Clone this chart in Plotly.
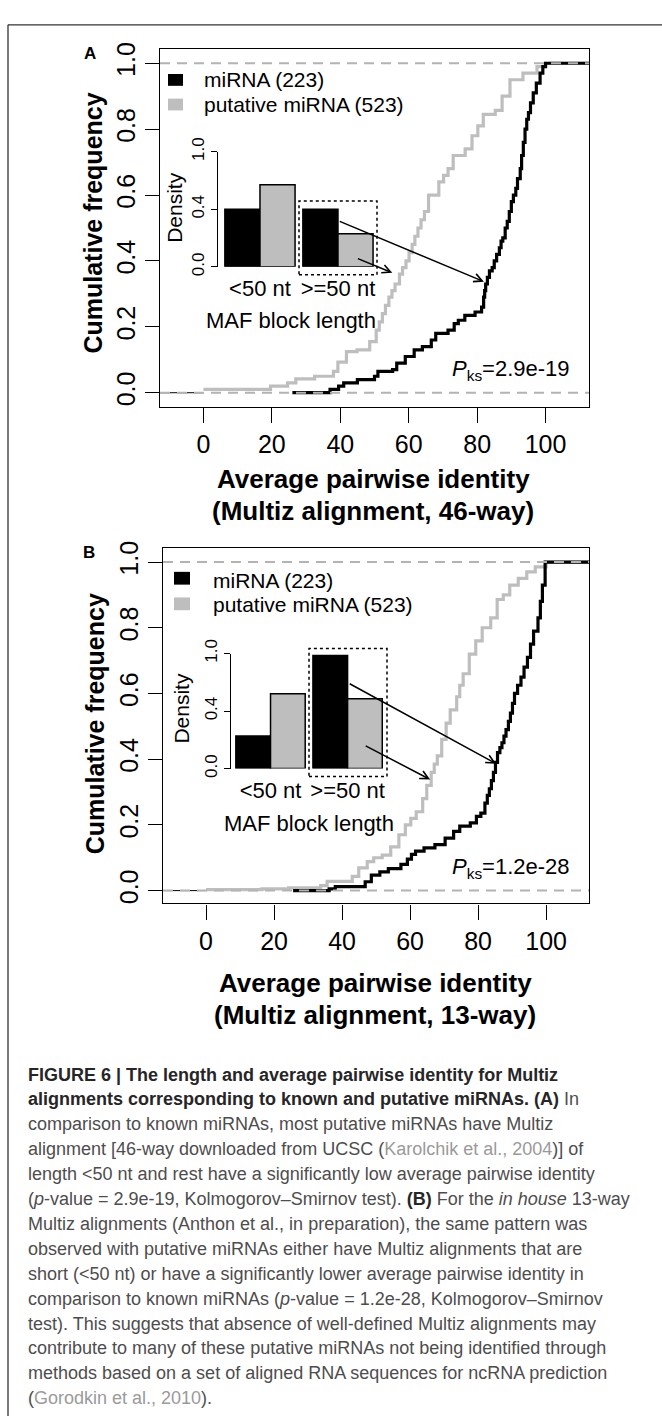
import plotly.graph_objects as go

W, H = 662, 1425

# ---------------- data ----------------
# Panel A: ECDF of average pairwise identity (Multiz 46-way)
a_mirna_x = [26, 37, 39.5, 41, 45, 50, 51, 55.3, 56.5, 59, 61.6, 64, 66.6, 67.9, 71.5, 73.3,
             74.5, 76.4, 79.4, 81.3, 81.9, 82.2, 82.5, 83, 83.6, 84.4, 85, 85.7, 86.5, 87,
             87.5, 88.2, 88.8, 89.4, 90, 90.6, 91.3, 91.8, 92.6, 93, 93.5, 94, 94.5, 95,
             95.6, 96.4, 97.3, 98.4, 99.2, 100]
a_mirna_y = [0, 0.01, 0.02, 0.03, 0.04, 0.05, 0.065, 0.07, 0.09, 0.11, 0.13, 0.14, 0.16, 0.18,
             0.19, 0.21, 0.22, 0.235, 0.245, 0.26, 0.29, 0.31, 0.33, 0.35, 0.37, 0.38, 0.40,
             0.42, 0.44, 0.46, 0.47, 0.50, 0.52, 0.55, 0.58, 0.60, 0.62, 0.65, 0.68, 0.72,
             0.76, 0.80, 0.83, 0.85, 0.88, 0.91, 0.94, 0.97, 0.99, 1.0]
a_put_x = [0, 19.6, 24.6, 27, 32.5, 38, 39.3, 41.8, 44.9, 48.6, 50.5, 51.4, 52.3, 53.2, 54.2,
           55.1, 56, 57.3, 58.2, 59.2, 60.1, 61, 61.8, 62.7, 63.6, 64.6, 65.8, 68.8, 70.2,
           71.5, 73, 76.5, 78.5, 80.2, 81.8, 85.3, 87.3, 89.6, 93.4, 97.5, 99.9]
a_put_y = [0.01, 0.02, 0.03, 0.042, 0.05, 0.065, 0.093, 0.125, 0.13, 0.155, 0.19, 0.215, 0.24,
           0.265, 0.29, 0.31, 0.33, 0.36, 0.38, 0.40, 0.425, 0.45, 0.475, 0.50, 0.525, 0.55,
           0.60, 0.64, 0.66, 0.68, 0.72, 0.74, 0.78, 0.81, 0.845, 0.857, 0.90, 0.95, 0.97,
           0.99, 1.0]

# Panel B: ECDF of average pairwise identity (Multiz 13-way)
b_mirna_x = [25.6, 36.2, 38, 46.8, 48.6, 51.1, 53.6, 57.3, 59.2, 60.4, 61.6, 64.1, 67.3, 70.3,
             72.8, 74.6, 77.7, 79.5, 80.8, 82, 82.7, 83.3, 83.9, 84.5, 85.1, 85.7, 86.4, 87,
             87.6, 88.2, 88.9, 89.5, 90.1, 90.7, 91.6, 92.6, 93.5, 94.5, 95.4, 96.3, 97.6,
             98.3, 98.9, 99.7]
b_mirna_y = [0, 0.005, 0.012, 0.027, 0.047, 0.057, 0.067, 0.08, 0.096, 0.11, 0.12, 0.13, 0.14,
             0.16, 0.18, 0.196, 0.206, 0.226, 0.236, 0.266, 0.29, 0.31, 0.335, 0.36, 0.39,
             0.42, 0.435, 0.45, 0.47, 0.49, 0.515, 0.54, 0.57, 0.60, 0.625, 0.65, 0.68, 0.71,
             0.75, 0.79, 0.83, 0.88, 0.93, 1.0]
b_put_x = [0, 16.4, 24.3, 33.7, 35.6, 43, 44.9, 47.4, 49.3, 51.8, 54.3, 56.7, 58.6, 60.2,
           61.8, 63.7, 64.9, 66.2, 67.1, 68, 69.3, 70.6, 71.8, 73.7, 74.6, 75.6, 77.4, 79.3,
           81.2, 83.7, 85.6, 87.4, 89.3, 91.8, 94.3, 96.8, 100]
b_put_y = [0.003, 0.005, 0.008, 0.015, 0.028, 0.043, 0.069, 0.088, 0.10, 0.108, 0.133, 0.17,
           0.20, 0.22, 0.24, 0.28, 0.32, 0.36, 0.385, 0.41, 0.46, 0.51, 0.55, 0.59, 0.625,
           0.66, 0.72, 0.76, 0.80, 0.83, 0.886, 0.90, 0.93, 0.95, 0.97, 0.985, 1.0]

# Insets: density by MAF block length
inset_cats = ["<50 nt", ">=50 nt"]
a_inset_mirna = [0.40, 0.40]
a_inset_put = [0.57, 0.23]
b_inset_mirna = [0.226, 0.786]
b_inset_put = [0.52, 0.485]

series_names = ["miRNA (223)", "putative miRNA (523)"]
main_ticks = [0, 20, 40, 60, 80, 100]
main_yticks = [0.0, 0.2, 0.4, 0.6, 0.8, 1.0]
inset_ytickvals = [0.0, 0.4, 0.8]
inset_yticktext = ["0.0", "0.4", "1.0"]
pks_text = ["2.9e-19", "1.2e-28"]
xtitle_ways = ["46-way", "13-way"]

# ---------------- styling ----------------
FONT = "Liberation Sans, Arial, Helvetica, sans-serif"
BLACK = "#000000"
GRAY = "#BEBEBE"
DASH = "#B3B3B3"


def fx(p):
    return p / W


def fy(p):
    return 1 - p / H


fig = go.Figure()

panels = [
    dict(x="x", y="y", xi="x3", yi="y3",
         mx=a_mirna_x, my=a_mirna_y, gx=a_put_x, gy=a_put_y,
         xr=[-12.7, 112.7], yr=[-0.042, 1.042],
         xdom=[160, 589], ydom=[36, 399],
         ixdom=[218, 390], iydom=[140, 257], ixr=[-0.538, 1.667],
         im=a_inset_mirna, ip=a_inset_put),
    dict(x="x2", y="y2", xi="x4", yi="y4",
         mx=b_mirna_x, my=b_mirna_y, gx=b_put_x, gy=b_put_y,
         xr=[-12.65, 112.6], yr=[-0.039, 1.042],
         xdom=[163, 589], ydom=[543, 904],
         ixdom=[231, 400], iydom=[650, 767], ixr=[-0.513, 1.68],
         im=b_inset_mirna, ip=b_inset_put),
]

for p in panels:
    xmax = p["xr"][1]
    fig.add_trace(go.Scatter(x=[p["xr"][0], p["gx"][0]], y=[0, 0], mode="lines",
                             line=dict(color=BLACK, width=1), xaxis=p["x"], yaxis=p["y"],
                             showlegend=False, hoverinfo="skip"))
    fig.add_trace(go.Scatter(x=p["gx"] + [xmax], y=p["gy"] + [p["gy"][-1]], mode="lines",
                             line=dict(color=GRAY, width=3.2, shape="hv"),
                             xaxis=p["x"], yaxis=p["y"], showlegend=False,
                             name=series_names[1]))
    fig.add_trace(go.Scatter(x=p["mx"] + [xmax], y=p["my"] + [p["my"][-1]], mode="lines",
                             line=dict(color=BLACK, width=3.2, shape="hv"),
                             xaxis=p["x"], yaxis=p["y"], showlegend=False,
                             name=series_names[0]))
    fig.add_trace(go.Bar(x=inset_cats, y=p["im"],
                         marker=dict(color=BLACK, line=dict(color=BLACK, width=1.5)),
                         xaxis=p["xi"], yaxis=p["yi"], showlegend=False, name=series_names[0]))
    fig.add_trace(go.Bar(x=inset_cats, y=p["ip"],
                         marker=dict(color=GRAY, line=dict(color=BLACK, width=1.5)),
                         xaxis=p["xi"], yaxis=p["yi"], showlegend=False, name=series_names[1]))

layout = dict(
    width=W, height=H, autosize=False,
    margin=dict(l=0, r=0, t=0, b=0, pad=0),
    paper_bgcolor="white", plot_bgcolor="rgba(0,0,0,0)",
    barmode="group", bargap=0.1, bargroupgap=0,
    showlegend=False,
)

ax_names = [("xaxis", "yaxis", "xaxis3", "yaxis3"), ("xaxis2", "yaxis2", "xaxis4", "yaxis4")]
for p, (xa, ya, xia, yia) in zip(panels, ax_names):
    layout[xa] = dict(domain=[fx(p["xdom"][0]), fx(p["xdom"][1])], range=p["xr"],
                      anchor=p["y"], showgrid=False, zeroline=False,
                      showline=True, mirror=True, linecolor=BLACK, linewidth=1.3,
                      ticks="outside", ticklen=15, tickwidth=1.3, tickcolor=BLACK,
                      tickvals=main_ticks, tickangle=0,
                      tickfont=dict(family=FONT, size=25, color=BLACK))
    layout[ya] = dict(domain=[fy(p["ydom"][1]), fy(p["ydom"][0])], range=p["yr"],
                      anchor=p["x"], showgrid=False, zeroline=False,
                      showline=True, mirror=True, linecolor=BLACK, linewidth=1.3,
                      ticks="outside", ticklen=14, tickwidth=1.3, tickcolor=BLACK,
                      tickvals=main_yticks, tickformat=".1f", tickangle=-90,
                      tickfont=dict(family=FONT, size=25, color=BLACK))
    layout[xia] = dict(domain=[fx(p["ixdom"][0]), fx(p["ixdom"][1])], range=p["ixr"],
                       anchor=p["yi"], showgrid=False, zeroline=False, showline=False,
                       ticks="", type="category", tickangle=0,
                       tickfont=dict(family=FONT, size=22, color=BLACK),
                       ticklabelstandoff=6)
    layout[yia] = dict(domain=[fy(p["iydom"][1]), fy(p["iydom"][0])], range=[0, 0.8],
                       anchor=p["xi"], showgrid=False, zeroline=False,
                       showline=True, linecolor=BLACK, linewidth=1.3,
                       ticks="outside", ticklen=6, tickwidth=1.3, tickcolor=BLACK,
                       tickvals=inset_ytickvals, ticktext=inset_yticktext, tickangle=-90,
                       tickfont=dict(family=FONT, size=17, color=BLACK))

fig.update_layout(**layout)

shapes = []
annotations = []

# outer frame (top and left)
shapes.append(dict(type="line", xref="paper", yref="paper", x0=fx(8), x1=1.0, y0=fy(11), y1=fy(11),
                   line=dict(color="#333333", width=1.3)))
shapes.append(dict(type="line", xref="paper", yref="paper", x0=fx(8), x1=fx(8), y0=fy(11), y1=0,
                   line=dict(color="#333333", width=1.3)))

panel_text = [
    dict(letter="A", lpos=(90, 40), leg_sq=(168, 183, [61, 86], 12), leg_tx=(202, [67, 92]),
         ytitle=(93, 213), xtitle=(373, [473, 505]), pks=(572, 362),
         maf=(290.5, 312), dens=(175, 197),
         box=(299, 377, 190, 265),
         arrows=[((39.4, 0.522), (82.0, 0.337)), ((44.7, 0.409), (55.2, 0.364))]),
    dict(letter="B", lpos=(89, 547), leg_sq=(174, 190, [567, 593], 13), leg_tx=(211, [576, 600]),
         ytitle=(95, 722), xtitle=(375, [985, 1017]), pks=(572, 868),
         maf=(309, 823), dens=(182, 706),
         box=(309, 387, 645, 775),
         arrows=[((41.8, 0.632), (85.3, 0.386)), ((46.5, 0.443), (65.9, 0.338))]),
]

for i, (p, t) in enumerate(zip(panels, panel_text)):
    # dashed reference lines at 0 and 1
    for yv in (0, 1):
        shapes.append(dict(type="line", xref=f"{p['x']} domain", yref=p["y"], x0=0, x1=1,
                           y0=yv, y1=yv, line=dict(color=DASH, width=2, dash="10px,7px"),
                           layer="above"))
    # dotted box around >=50 nt bars
    bx0, bx1, by0, by1 = t["box"]
    shapes.append(dict(type="rect", xref="paper", yref="paper", x0=fx(bx0), x1=fx(bx1),
                       y0=fy(by1), y1=fy(by0), line=dict(color=BLACK, width=1.5, dash="dot"),
                       layer="above"))
    # legend keys
    x0, x1, ys, hgt = t["leg_sq"]
    for yy, col in zip(ys, [BLACK, GRAY]):
        shapes.append(dict(type="rect", xref="paper", yref="paper", x0=fx(x0), x1=fx(x1),
                           y0=fy(yy + hgt), y1=fy(yy), fillcolor=col, line=dict(width=0)))
    lx, lys = t["leg_tx"]
    for yy, name in zip(lys, series_names):
        annotations.append(dict(xref="paper", yref="paper", x=fx(lx), y=fy(yy), text=name,
                                showarrow=False, xanchor="left", yanchor="middle",
                                font=dict(family=FONT, size=21, color=BLACK)))
    # panel letter
    annotations.append(dict(xref="paper", yref="paper", x=fx(t["lpos"][0]), y=fy(t["lpos"][1]),
                            text=f"<b>{t['letter']}</b>", showarrow=False,
                            xanchor="center", yanchor="middle",
                            font=dict(family=FONT, size=17, color=BLACK)))
    # y title
    annotations.append(dict(xref="paper", yref="paper", x=fx(t["ytitle"][0]), y=fy(t["ytitle"][1]),
                            text="<b>Cumulative frequency</b>", showarrow=False, textangle=-90,
                            xanchor="center", yanchor="middle",
                            font=dict(family=FONT, size=25, color=BLACK)))
    # x title (two lines)
    xt, (y1, y2) = t["xtitle"]
    annotations.append(dict(xref="paper", yref="paper", x=fx(xt), y=fy(y1),
                            text="<b>Average pairwise identity</b>", showarrow=False,
                            xanchor="center", yanchor="middle",
                            font=dict(family=FONT, size=26, color=BLACK)))
    annotations.append(dict(xref="paper", yref="paper", x=fx(xt), y=fy(y2),
                            text=f"<b>(Multiz alignment, {xtitle_ways[i]})</b>", showarrow=False,
                            xanchor="center", yanchor="middle",
                            font=dict(family=FONT, size=26, color=BLACK)))
    # P_ks
    annotations.append(dict(xref="paper", yref="paper", x=fx(t["pks"][0]), y=fy(t["pks"][1]),
                            text=f"<i>P</i><sub>ks</sub>={pks_text[i]}", showarrow=False,
                            xanchor="right", yanchor="middle",
                            font=dict(family=FONT, size=22, color=BLACK)))
    # inset axis titles
    annotations.append(dict(xref="paper", yref="paper", x=fx(t["maf"][0]), y=fy(t["maf"][1]),
                            text="MAF block length", showarrow=False,
                            xanchor="center", yanchor="middle",
                            font=dict(family=FONT, size=22, color=BLACK)))
    annotations.append(dict(xref="paper", yref="paper", x=fx(t["dens"][0]), y=fy(t["dens"][1]),
                            text="Density", showarrow=False, textangle=-90,
                            xanchor="center", yanchor="middle",
                            font=dict(family=FONT, size=21, color=BLACK)))
    # arrows from inset bars to the curves
    for (tx, ty), (hx, hy) in t["arrows"]:
        annotations.append(dict(xref=p["x"], yref=p["y"], axref=p["x"], ayref=p["y"],
                                x=hx, y=hy, ax=tx, ay=ty, text="", showarrow=True,
                                arrowhead=5, arrowsize=1.1, arrowwidth=1.5, arrowcolor=BLACK,
                                standoff=0, startstandoff=0))

# caption
BOLDC = "#262626"
BODYC = "#4d4d4d"
CITEC = "#9a9a9a"
caption_lines = [
    f"<span style='color:{BOLDC}'><b>FIGURE 6 | The length and average pairwise identity for Multiz</b></span>",
    f"<span style='color:{BOLDC}'><b>alignments corresponding to known and putative miRNAs. (A)</b></span> In",
    "comparison to known miRNAs, most putative miRNAs have Multiz",
    f"alignment [46-way downloaded from UCSC (<span style='color:{CITEC}'>Karolchik et al., 2004</span>)] of",
    "length &lt;50 nt and rest have a significantly low average pairwise identity",
    f"(<i>p</i>-value = 2.9e-19, Kolmogorov–Smirnov test). <span style='color:{BOLDC}'><b>(B)</b></span> For the <i>in house</i> 13-way",
    "Multiz alignments (Anthon et al., in preparation), the same pattern was",
    "observed with putative miRNAs either have Multiz alignments that are",
    "short (&lt;50 nt) or have a significantly lower average pairwise identity in",
    "comparison to known miRNAs (<i>p</i>-value = 1.2e-28, Kolmogorov–Smirnov",
    "test). This suggests that absence of well-defined Multiz alignments may",
    "contribute to many of these putative miRNAs not being identified through",
    "methods based on a set of aligned RNA sequences for ncRNA prediction",
    f"(<span style='color:{CITEC}'>Gorodkin et al., 2010</span>).",
]
for k, line in enumerate(caption_lines):
    annotations.append(dict(xref="paper", yref="paper", x=fx(26), y=fy(1078 + 25.3 * k),
                            text=line, showarrow=False, xanchor="left", yanchor="middle",
                            align="left", font=dict(family=FONT, size=18, color=BODYC)))

fig.update_layout(shapes=shapes, annotations=annotations)

fig.write_html("out.html", config={"displayModeBar": False},
               post_script="document.body.style.margin='0';document.body.style.overflow='hidden';")
